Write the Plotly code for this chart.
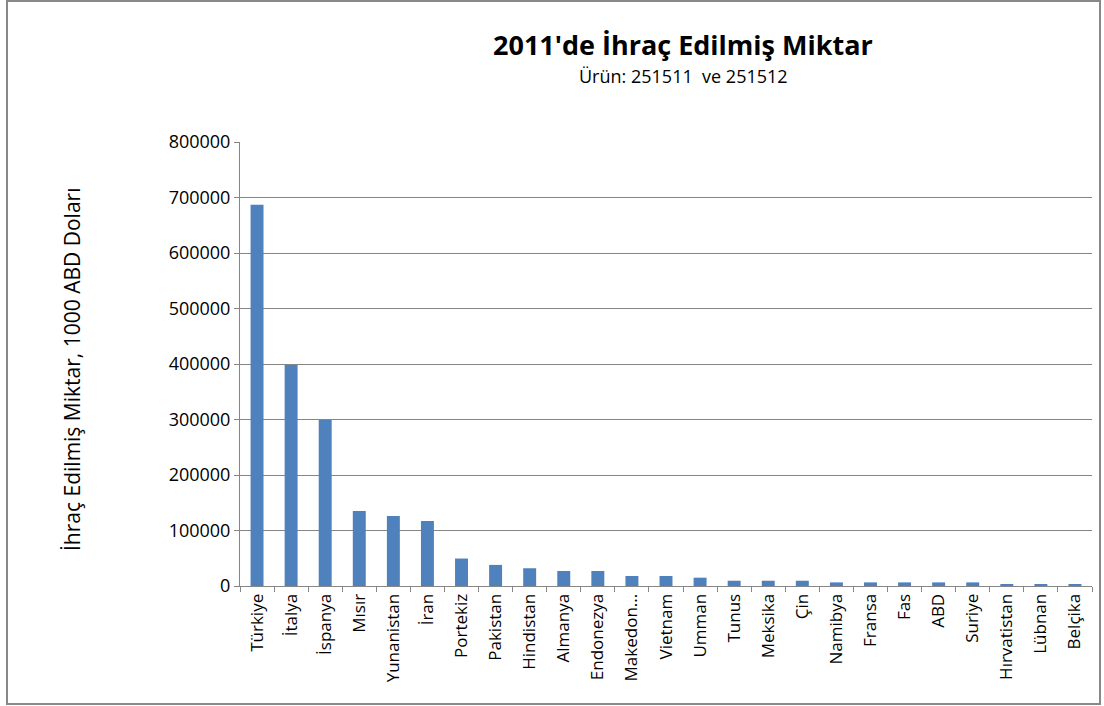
import plotly.graph_objects as go

countries = ["Türkiye", "İtalya", "İspanya", "Mısır", "Yunanistan", "İran", "Portekiz",
             "Pakistan", "Hindistan", "Almanya", "Endonezya", "Makedon...", "Vietnam",
             "Umman", "Tunus", "Meksika", "Çin", "Namibya", "Fransa", "Fas", "ABD",
             "Suriye", "Hırvatistan", "Lübnan", "Belçika"]
values = [687000, 398000, 299000, 135000, 126000, 117000, 49500,
          38000, 32000, 27000, 27000, 18000, 18000,
          15000, 9500, 9500, 9500, 6500, 6500, 6500, 6500,
          6500, 3000, 3000, 3000]
y_ticks = [0, 100000, 200000, 300000, 400000, 500000, 600000, 700000, 800000]

FONT = "'Open Sans', Lato, sans-serif"
W, H = 1104, 706
L, R, T, B = 240, 12, 142, 120
pw, ph = W - L - R, H - T - B

def px(x):
    return (x - L) / pw

def py(y):
    return (H - B - y) / ph

fig = go.Figure(go.Bar(x=countries, y=values, marker_color="#4F81BD",
                       marker_line_width=0))

fig.update_layout(
    width=W, height=H,
    margin=dict(l=L, r=R, t=T, b=B),
    paper_bgcolor="white", plot_bgcolor="white",
    bargap=0.62,
    showlegend=False,
    font=dict(family=FONT, color="black", size=14),
    annotations=[
        dict(text="<b>2011'de İhraç Edilmiş Miktar</b>", x=px(683), y=py(44),
             xref="paper", yref="paper", showarrow=False, font=dict(size=27, family=FONT),
             xanchor="center", yanchor="middle"),
        dict(text="Ürün: 251511  ve 251512", x=px(683), y=py(76),
             xref="paper", yref="paper", showarrow=False, font=dict(size=18, family=FONT),
             xanchor="center", yanchor="middle"),
        dict(text="İhraç Edilmiş Miktar, 1000 ABD Doları", x=px(72), y=py(370),
             xref="paper", yref="paper", showarrow=False, textangle=-90,
             font=dict(size=21, family=FONT), xanchor="center", yanchor="middle"),
    ],
    shapes=[
        dict(type="rect", xref="paper", yref="paper",
             x0=px(7), x1=px(1100), y0=py(704), y1=py(1),
             line=dict(color="#888888", width=2), layer="below"),
    ],
)

fig.update_yaxes(
    range=[0, 800000], tickvals=y_ticks, tickformat="d",
    showgrid=True, gridcolor="#868686", gridwidth=1,
    showline=True, linecolor="#868686", linewidth=1,
    ticks="outside", ticklen=5, tickcolor="#868686",
    tickfont=dict(size=18, family=FONT), zeroline=False,
)
fig.update_xaxes(
    tickangle=-90, tickson="boundaries",
    showline=True, linecolor="#868686", linewidth=1,
    ticks="outside", ticklen=5, tickcolor="#868686",
    tickfont=dict(size=17, family=FONT),
)

fig.write_html("out.html", config={"displayModeBar": False},
               post_script="document.body.style.margin='0';")
